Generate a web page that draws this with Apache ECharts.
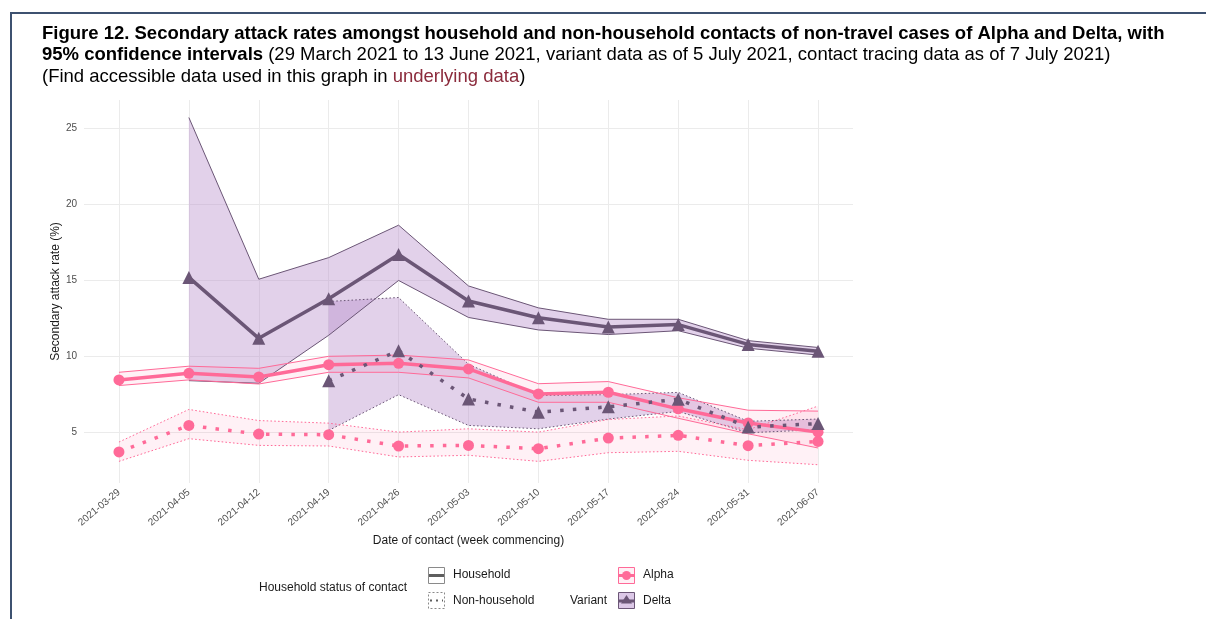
<!DOCTYPE html>
<html>
<head>
<meta charset="utf-8">
<script src="https://cdn.jsdelivr.net/npm/echarts@6/dist/echarts.min.js"></script>
<style>
  html, body { margin: 0; padding: 0; background: #ffffff; }
  #chart { width: 1206px; height: 619px; }
</style>
</head>
<body>
<div id="chart"></div>
<script>
// Week commencing dates (x axis categories)
const weeks = ['2021-03-29', '2021-04-05', '2021-04-12', '2021-04-19', '2021-04-26', '2021-05-03',
               '2021-05-10', '2021-05-17', '2021-05-24', '2021-05-31', '2021-06-07'];
const yTicks = [5, 10, 15, 20, 25];

// Delta, household contacts: secondary attack rate (%) with 95% CI
const deltaHH   = [null, 15.2, 11.2, 13.8, 16.7, 13.65, 12.55, 11.95, 12.1, 10.8, 10.35];
const deltaHHLo = [null, 8.42, 8.25, 11.4, 15.0, 12.57, 11.75, 11.45, 11.7, 10.55, 10.1];
const deltaHHHi = [null, 25.7, 15.08, 16.5, 18.63, 14.64, 13.2, 12.45, 12.45, 11.05, 10.6];

// Delta, non-household contacts
const deltaNH   = [null, null, null, 8.42, 10.39, 7.22, 6.35, 6.7, 7.2, 5.37, 5.6];
const deltaNHLo = [null, null, null, 5.15, 7.5, 5.48, 5.26, 5.9, 6.4, 5.0, 5.2];
const deltaNHHi = [null, null, null, 13.62, 13.88, 9.5, 7.45, 7.5, 7.65, 5.75, 5.9];

// Alpha, household contacts
const alphaHH   = [8.47, 8.9, 8.66, 9.47, 9.56, 9.19, 7.55, 7.66, 6.57, 5.64, 5.04];
const alphaHHLo = [8.1, 8.47, 8.2, 8.97, 8.97, 8.6, 7.0, 7.0, 5.95, 4.93, 4.0];
const alphaHHHi = [8.97, 9.37, 9.23, 10.02, 10.1, 9.78, 8.22, 8.36, 7.3, 6.48, 6.42];

// Alpha, non-household contacts
const alphaNH   = [3.74, 5.48, 4.91, 4.87, 4.13, 4.17, 3.95, 4.65, 4.83, 4.15, 4.43];
const alphaNHLo = [3.12, 4.61, 4.17, 4.13, 3.41, 3.52, 3.12, 3.69, 3.78, 3.19, 2.9];
const alphaNHHi = [4.39, 6.53, 5.8, 5.63, 5.04, 5.26, 5.04, 5.87, 6.1, 5.2, 6.75];

const DELTA = '#6b5676';
const ALPHA = '#ff6a98';
const DELTA_FILL = 'rgba(182,140,202,0.40)';
const ALPHA_FILL = 'rgba(255,105,150,0.09)';
const weekIdx = weeks.map((w, i) => i);

function pts(vals) {
  return vals.map((v, i) => [i, v]).filter(p => p[1] != null);
}

// Shaded confidence band drawn as one polygon through the axis scales
function ribbon(lo, hi, fill) {
  const rows = lo.map((v, i) => [i, v, hi[i]]).filter(r => r[1] != null);
  return {
    type: 'custom', silent: true, z: 1, clip: true,
    data: rows,
    encode: { x: 0, y: [1, 2] },
    renderItem: function (params, api) {
      if (params.dataIndex !== 0) return null;
      const top = rows.map(r => api.coord([r[0], r[2]]));
      const bot = rows.map(r => api.coord([r[0], r[1]])).reverse();
      return { type: 'polygon', shape: { points: top.concat(bot) }, style: { fill: fill, stroke: null } };
    }
  };
}

function bound(vals, color, dashed) {
  return {
    type: 'line', data: pts(vals), silent: true, z: 3,
    symbol: 'none', showSymbol: false,
    lineStyle: { color: color, width: 1, type: dashed ? [1.6, 2.2] : 'solid' }
  };
}

function centre(vals, color, dashed, symbol, size) {
  return {
    type: 'line', data: pts(vals), silent: true, z: 4,
    symbol: symbol, symbolSize: size, showSymbol: true,
    itemStyle: { color: color, borderWidth: 0 },
    lineStyle: { color: color, width: 3.5, type: dashed ? [3.5, 9.2] : 'solid', cap: 'butt' }
  };
}

const chart = echarts.init(document.getElementById('chart'), null, { renderer: 'canvas' });

const FONT = 'Liberation Sans, Arial, sans-serif';
const TS = 18.5;

chart.setOption({
  animation: false,
  backgroundColor: '#ffffff',
  textStyle: { fontFamily: FONT },
  title: {
    left: 37, top: 18,
    text: '{b|Figure 12. Secondary attack rates amongst household and non-household contacts of non-travel cases of Alpha and Delta, with}\n' +
          '{b|95% confidence intervals}{n| (29 March 2021 to 13 June 2021, variant data as of 5 July 2021, contact tracing data as of 7 July 2021)}\n' +
          '{n|(Find accessible data used in this graph in }{r|underlying data}{n|)}',
    textStyle: {
      rich: {
        b: { fontFamily: FONT, fontWeight: 'bold', fontSize: TS, color: '#000000', lineHeight: 21.5 },
        n: { fontFamily: FONT, fontWeight: 'normal', fontSize: TS, color: '#000000', lineHeight: 21.5 },
        r: { fontFamily: FONT, fontWeight: 'normal', fontSize: TS, color: '#8b2b3c', lineHeight: 21.5 }
      }
    }
  },
  grid: { left: 84, right: 353, top: 100, bottom: 136, containLabel: false },
  xAxis: {
    type: 'value', min: -0.5, max: 10.5,
    axisLine: { show: false },
    axisTick: { show: false, customValues: weekIdx },
    axisLabel: {
      customValues: weekIdx,
      formatter: v => weeks[v],
      rotate: 40, fontSize: 10, color: '#4d4d4d', margin: 8, fontFamily: FONT
    },
    splitLine: { show: true, lineStyle: { color: '#ebebeb', width: 1 } },
    name: 'Date of contact (week commencing)',
    nameLocation: 'middle', nameGap: 46,
    nameTextStyle: { fontSize: 12, color: '#1a1a1a', fontFamily: FONT }
  },
  yAxis: {
    type: 'value', min: 1.7, max: 26.85,
    axisLine: { show: false },
    axisTick: { show: false, customValues: yTicks },
    axisLabel: { customValues: yTicks, fontSize: 10, color: '#4d4d4d', margin: 7, fontFamily: FONT },
    splitLine: { show: true, lineStyle: { color: '#ebebeb', width: 1 } },
    name: 'Secondary attack rate (%)',
    nameLocation: 'middle', nameGap: 22, nameMoveOverlap: false,
    nameTextStyle: { fontSize: 12, color: '#1a1a1a', fontFamily: FONT }
  },
  series: [
    ribbon(deltaHHLo, deltaHHHi, DELTA_FILL),
    ribbon(deltaNHLo, deltaNHHi, DELTA_FILL),
    ribbon(alphaHHLo, alphaHHHi, ALPHA_FILL),
    ribbon(alphaNHLo, alphaNHHi, ALPHA_FILL),
    bound(deltaHHLo, DELTA, false),
    bound(deltaHHHi, DELTA, false),
    bound(deltaNHLo, DELTA, true),
    bound(deltaNHHi, DELTA, true),
    bound(alphaHHLo, ALPHA, false),
    bound(alphaHHHi, ALPHA, false),
    bound(alphaNHLo, ALPHA, true),
    bound(alphaNHHi, ALPHA, true),
    centre(alphaHH, ALPHA, false, 'circle', 11),
    centre(alphaNH, ALPHA, true, 'circle', 11),
    centre(deltaHH, DELTA, false, 'triangle', 13),
    centre(deltaNH, DELTA, true, 'triangle', 13)
  ],
  graphic: [
    // page frame
    { type: 'polyline', silent: true, shape: { points: [[11, 619], [11, 13], [1206, 13]] },
      style: { stroke: '#3d5170', lineWidth: 2, fill: null } },
    // legend: household status
    { type: 'text', left: 259, top: 582, style: { text: 'Household status of contact', font: '12px ' + FONT, fill: '#1a1a1a' } },
    { type: 'rect', shape: { x: 428.5, y: 567.5, width: 16, height: 16 }, style: { fill: '#ffffff', stroke: '#8a8a8a', lineWidth: 1 } },
    { type: 'line', shape: { x1: 429, y1: 575.5, x2: 444, y2: 575.5 }, style: { stroke: '#5e5e5e', lineWidth: 3 } },
    { type: 'text', left: 453, top: 569, style: { text: 'Household', font: '12px ' + FONT, fill: '#1a1a1a' } },
    { type: 'rect', shape: { x: 428.5, y: 592.5, width: 16, height: 16 }, style: { fill: '#ffffff', stroke: '#8a8a8a', lineWidth: 1, lineDash: [2, 2] } },
    { type: 'line', shape: { x1: 430, y1: 600.5, x2: 443, y2: 600.5 }, style: { stroke: '#5e5e5e', lineWidth: 2, lineDash: [2, 4] } },
    { type: 'text', left: 453, top: 594.5, style: { text: 'Non-household', font: '12px ' + FONT, fill: '#1a1a1a' } },
    // legend: variant
    { type: 'text', left: 570, top: 594.5, style: { text: 'Variant', font: '12px ' + FONT, fill: '#1a1a1a' } },
    { type: 'rect', shape: { x: 618.5, y: 567.5, width: 16, height: 16 }, style: { fill: '#fff0f5', stroke: ALPHA, lineWidth: 1 } },
    { type: 'line', shape: { x1: 619, y1: 575.5, x2: 634, y2: 575.5 }, style: { stroke: ALPHA, lineWidth: 3 } },
    { type: 'circle', shape: { cx: 626.5, cy: 575.5, r: 4.5 }, style: { fill: ALPHA } },
    { type: 'text', left: 643, top: 569, style: { text: 'Alpha', font: '12px ' + FONT, fill: '#1a1a1a' } },
    { type: 'rect', shape: { x: 618.5, y: 592.5, width: 16, height: 16 }, style: { fill: '#dcc8e7', stroke: DELTA, lineWidth: 1 } },
    { type: 'line', shape: { x1: 619, y1: 601, x2: 634, y2: 601 }, style: { stroke: DELTA, lineWidth: 3 } },
    { type: 'polygon', shape: { points: [[626.5, 595], [632, 603.5], [621, 603.5]] }, style: { fill: DELTA } },
    { type: 'text', left: 643, top: 594.5, style: { text: 'Delta', font: '12px ' + FONT, fill: '#1a1a1a' } }
  ]
});
</script>
</body>
</html>
